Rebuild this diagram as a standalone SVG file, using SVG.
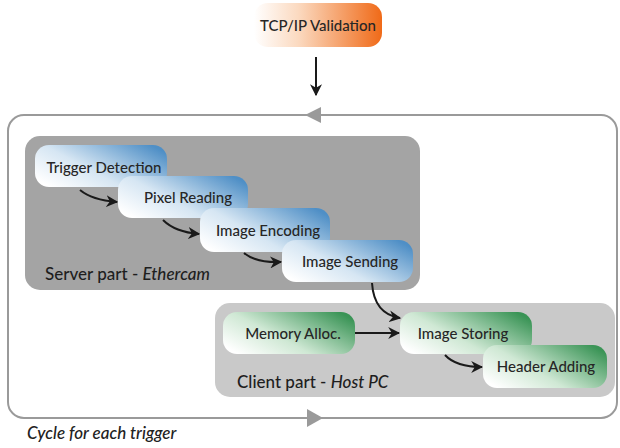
<svg xmlns="http://www.w3.org/2000/svg" width="620" height="448" viewBox="0 0 620 448">
<defs>
<linearGradient id="gBlue" x1="0" y1="0.8" x2="1" y2="0.2">
<stop offset="0" stop-color="#ffffff"/>
<stop offset="0.4" stop-color="#d6e6f3"/>
<stop offset="1" stop-color="#4f8fc6"/>
</linearGradient>
<linearGradient id="gGreen" x1="0" y1="0.8" x2="1" y2="0.2">
<stop offset="0" stop-color="#ffffff"/>
<stop offset="0.4" stop-color="#cfe8d4"/>
<stop offset="1" stop-color="#3a9456"/>
</linearGradient>
<linearGradient id="gOrange" x1="0" y1="0" x2="1" y2="0">
<stop offset="0" stop-color="#ffffff"/>
<stop offset="0.35" stop-color="#fbd9bf"/>
<stop offset="1" stop-color="#f06a18"/>
</linearGradient>
<marker id="ah" viewBox="0 0 10 10" refX="9" refY="5" markerWidth="6" markerHeight="6" orient="auto" markerUnits="strokeWidth">
<path d="M0,0 L10,5 L0,10 L3,5 Z" fill="#1a1a1a"/>
</marker>
</defs>
<style>
.lbl{font-family:Lato,"Open Sans",sans-serif;font-size:15px;font-weight:500;fill:#262626;text-anchor:middle;dominant-baseline:central}
.part{font-family:Lato,"Open Sans",sans-serif;font-size:17px;font-weight:500;fill:#1e1e1e}
.con{fill:none;stroke:#1a1a1a;stroke-width:2;marker-end:url(#ah)}
.blue{fill:url(#gBlue)}
.green{fill:url(#gGreen)}
</style>
<rect width="620" height="448" fill="#ffffff"/>
<g id="loop">
<rect x="8" y="115" width="609" height="303" rx="16" fill="none" stroke="#9a9a9a" stroke-width="2"/>
<path d="M305,115 L321,107 L321,123 Z" fill="#9a9a9a"/>
<path d="M323,418 L307,409 L307,427 Z" fill="#9a9a9a"/>
<text x="27" y="439" font-family="Lato,'Open Sans',sans-serif" font-size="17" font-weight="500" font-style="italic" fill="#222">Cycle for each trigger</text>
</g>
<g id="server">
<rect x="25" y="136" width="395" height="154" rx="15" fill="#a4a4a4"/>
<text class="part" x="45" y="280">Server part - <tspan font-style="italic">Ethercam</tspan></text>
</g>
<g id="client">
<rect x="215" y="303" width="400" height="94" rx="15" fill="#c9c9c9"/>
<text class="part" x="237" y="388">Client part - <tspan font-style="italic">Host PC</tspan></text>
</g>
<g id="tcp">
<rect x="254" y="3" width="128" height="44" rx="14" fill="url(#gOrange)"/>
<text class="lbl" x="318" y="25">TCP/IP Validation</text>
</g>
<g id="trigger">
<rect x="35" y="145" width="132" height="42" rx="14" class="blue"/>
<text class="lbl" x="104" y="167">Trigger Detection</text>
</g>
<g id="pixel">
<rect x="118" y="176" width="130" height="42" rx="14" class="blue"/>
<text class="lbl" x="188" y="197">Pixel Reading</text>
</g>
<g id="encoding">
<rect x="200" y="208" width="130" height="44" rx="14" class="blue"/>
<text class="lbl" x="268" y="230">Image Encoding</text>
</g>
<g id="sending">
<rect x="282" y="240" width="131" height="42" rx="14" class="blue"/>
<text class="lbl" x="350" y="261">Image Sending</text>
</g>
<g id="memory">
<rect x="223" y="312" width="132" height="42" rx="14" class="green"/>
<text class="lbl" x="293" y="333">Memory Alloc.</text>
</g>
<g id="storing">
<rect x="400" y="312" width="132" height="42" rx="14" class="green"/>
<text class="lbl" x="463" y="333">Image Storing</text>
</g>
<g id="header">
<rect x="483" y="345" width="124" height="43" rx="14" class="green"/>
<text class="lbl" x="546" y="366">Header Adding</text>
</g>
<g id="connectors">
<line x1="316" y1="57" x2="316" y2="95" class="con"/>
<path d="M80,190 Q92,200 117,202" class="con"/>
<path d="M163,220 Q175,232 199,234" class="con"/>
<path d="M244,253 Q256,263 281,262" class="con"/>
<path d="M372,283 Q374,314 400,318" class="con"/>
<line x1="355" y1="333" x2="399" y2="333" class="con"/>
<path d="M445,355 Q456,367 482,367" class="con"/>
</g>
</svg>
